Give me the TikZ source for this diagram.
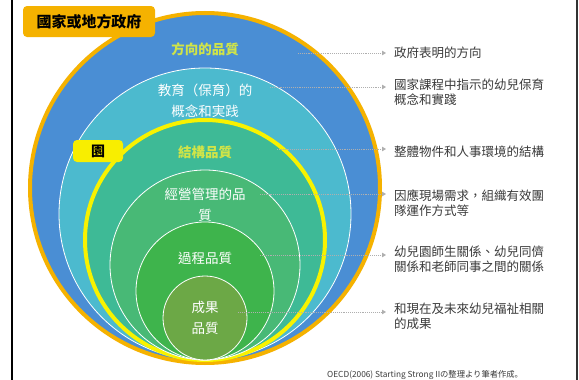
\documentclass[tikz,border=0pt]{standalone}
\usepackage{fontspec}
\setmainfont{Noto Sans CJK TC}
\newfontfamily\jpfont{Noto Sans CJK JP}
\usetikzlibrary{arrows.meta}
\definecolor{ringorange}{RGB}{245,178,0}
\definecolor{bluefill}{RGB}{74,142,212}
\definecolor{tealfill}{RGB}{76,186,206}
\definecolor{ringyellow}{RGB}{248,242,0}
\definecolor{greenteal}{RGB}{62,186,150}
\definecolor{midgreen}{RGB}{72,185,118}
\definecolor{green}{RGB}{62,180,76}
\definecolor{olive}{RGB}{108,168,70}
\definecolor{hlgreen}{RGB}{208,228,72}
\definecolor{desctext}{RGB}{58,58,58}
\definecolor{arrowgray}{RGB}{175,175,175}
\definecolor{tagyellow}{RGB}{248,238,0}
\begin{document}
\begin{tikzpicture}[x=1pt,y=-1pt,
  disc/.style={circle,inner sep=0pt,outer sep=0pt},
  ring/.style={disc,draw=white,line width=0.8pt},
  intxt/.style={text=white,font=\fontsize{13.5}{21}\selectfont,align=center,inner sep=0pt},
  hitxt/.style={text=hlgreen,font=\bfseries\fontsize{13.5}{21}\selectfont,inner sep=0pt},
  desc/.style={text=desctext,font=\fontsize{12.5}{15}\selectfont,align=left,anchor=west,inner sep=0pt},
  pointer/.style={draw=arrowgray,densely dotted,line width=0.9pt,-{Triangle[length=4pt,width=4.5pt]}},
  tag/.style={rounded corners=4pt,font=\bfseries\fontsize{15}{15}\selectfont,text=black,inner sep=0pt}
]
\useasboundingbox (0,0) rectangle (579,380);
\fill[white] (0,0) rectangle (579,380);
\draw[line width=1.5pt,black] (12,0) -- (12,380);
\draw[line width=1.5pt,black!80] (577,0) -- (577,380);

% circles
\node[disc,fill=bluefill,draw=ringorange,line width=4pt,minimum size=350pt] (c1) at (205,188) {};
\node[ring,fill=tealfill,minimum size=292pt] (c2) at (205,214) {};
\node[disc,fill=greenteal,draw=ringyellow,line width=4pt,minimum size=240pt] (c3) at (205,240) {};
\node[ring,fill=midgreen,minimum size=190pt] (c4) at (205,265) {};
\node[ring,fill=green,minimum size=138pt] (c5) at (205,291) {};
\node[ring,fill=olive,minimum size=84pt] (c6) at (205,318) {};

% circle texts
\node[hitxt] (t1) at (205,49) {方向的品質};
\node[intxt] (t2) at (205,100.5) {教育（保育）的\\概念和実践};
\node[hitxt] (t3) at (205,152) {結構品質};
\node[intxt] (t4) at (205,204.5) {經營管理的品\\質};
\node[intxt] (t5) at (205,258) {過程品質};
\node[intxt] (t6) at (205,317.5) {成果\\品質};

% tags
\node[tag,fill=ringorange,minimum width=132pt,minimum height=31pt] (g1) at (89,21.5) {國家或地方政府};
\node[tag,fill=tagyellow,minimum width=50pt,minimum height=22pt,font=\bfseries\fontsize{14}{14}\selectfont] (g2) at (98,151) {園};

% descriptions
\node[desc] (d1) at (394,53) {政府表明的方向};
\node[desc] (d2) at (394,92.5) {國家課程中指示的幼兒保育\\概念和實踐};
\node[desc] (d3) at (394,152) {整體物件和人事環境的結構};
\node[desc] (d4) at (394,203.5) {因應現場需求，組織有效團\\隊運作方式等};
\node[desc] (d5) at (394,259.5) {幼兒園師生關係、幼兒同儕\\關係和老師同事之間的關係};
\node[desc] (d6) at (394,316) {和現在及未來幼兒福祉相關\\的成果};

% arrows
\coordinate (s1) at (298,53);  \coordinate (e1) at (386,53);
\coordinate (s2) at (270,87);  \coordinate (e2) at (386,87);
\coordinate (s3) at (277,149); \coordinate (e3) at (386,149);
\coordinate (s4) at (260,194); \coordinate (e4) at (386,194);
\coordinate (s5) at (260,255); \coordinate (e5) at (386,255);
\coordinate (s6) at (238,312); \coordinate (e6) at (386,312);
\foreach \i in {1,...,6} {\draw[pointer] (s\i) -- (e\i);}

% footer
\node[text=desctext,font=\jpfont\fontsize{8.3}{9}\selectfont,anchor=west,inner sep=0pt] (src) at (327,375) {OECD(2006) Starting Strong IIの整理より筆者作成。};
\end{tikzpicture}
\end{document}
